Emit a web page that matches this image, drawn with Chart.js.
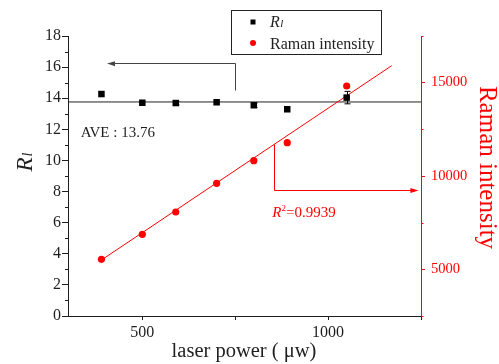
<!DOCTYPE html>
<html><head><meta charset="utf-8">
<script src="https://cdn.jsdelivr.net/npm/chart.js@4"></script>
<style>html,body{margin:0;padding:0;background:#fff}#wrap{width:499px;height:364px;position:relative}</style>
</head><body><div id="wrap"><canvas id="c" width="499" height="364"></canvas></div>
<script>
// ---- data ----
const laserPower = [390, 500, 590, 700, 800, 890, 1050];
const rlValues = [14.27, 13.71, 13.69, 13.74, 13.55, 13.29, 14.04];
const rlErrors = [0, 0, 0.12, 0, 0.15, 0, 0.4];
const ramanIntensity = [5537, 6877, 8071, 9609, 10820, 11784, 14821];
const fitPower = [390, 1171];
const fitIntensity = [5500, 15909];
const avePower = [300, 1250];
const aveValue = [13.76, 13.76];
const xTicks = [500, 750, 1000, 1250];
const xTickLabels = {500: '500', 1000: '1000'};
const yLeftTicks = [0, 2, 4, 6, 8, 10, 12, 14, 16, 18];
const yLeftMinor = [1, 3, 5, 7, 9, 11, 13, 15, 17];
const yRightTicks = [5000, 10000, 15000];
const yRightMinor = [2500, 7500, 12500, 17500];
const aveLabel = 'AVE : 13.76';
const r2Label = '=0.9939';

const SERIF = '"Liberation Serif","Times New Roman",serif';
const INK = '#1e1e1e';
const RED = '#ff0000';

function pts(xs, ys) { return xs.map((x, i) => ({x: x, y: ys[i]})); }

const overlay = {
  id: 'overlay',
  afterDatasetsDraw(chart) {
    const ctx = chart.ctx, a = chart.chartArea;
    const sx = chart.scales.x, sy = chart.scales.y, sr = chart.scales.y1;
    ctx.save();
    // minor ticks
    ctx.lineWidth = 1;
    ctx.strokeStyle = INK;
    yLeftMinor.forEach(v => {
      const p = Math.round(sy.getPixelForValue(v)) + 0.5;
      ctx.beginPath(); ctx.moveTo(a.left - 3, p); ctx.lineTo(a.left, p); ctx.stroke();
    });
    ctx.strokeStyle = RED;
    yRightMinor.forEach(v => {
      const p = Math.round(sr.getPixelForValue(v)) + 0.5;
      ctx.beginPath(); ctx.moveTo(a.right, p); ctx.lineTo(a.right + 2.5, p); ctx.stroke();
    });
    // error bars
    ctx.strokeStyle = '#000';
    laserPower.forEach((x, i) => {
      const e = rlErrors[i];
      if (!e) return;
      const px = Math.round(sx.getPixelForValue(x)) + 0.5;
      const t = sy.getPixelForValue(rlValues[i] + e), b = sy.getPixelForValue(rlValues[i] - e);
      ctx.beginPath();
      ctx.moveTo(px, t); ctx.lineTo(px, b);
      ctx.moveTo(px - 3, t); ctx.lineTo(px + 3, t);
      ctx.moveTo(px - 3, b); ctx.lineTo(px + 3, b);
      ctx.stroke();
    });
    // black arrow (points to left axis)
    const bx = sx.getPixelForValue(750), by0 = sy.getPixelForValue(14.5), by1 = sy.getPixelForValue(16.25);
    const btip = sx.getPixelForValue(405);
    ctx.strokeStyle = '#444'; ctx.fillStyle = '#444';
    ctx.beginPath();
    ctx.moveTo(Math.round(bx) + 0.5, by0); ctx.lineTo(Math.round(bx) + 0.5, Math.round(by1) + 0.5);
    ctx.lineTo(btip + 6, Math.round(by1) + 0.5); ctx.stroke();
    ctx.beginPath();
    ctx.moveTo(btip, Math.round(by1) + 0.5); ctx.lineTo(btip + 8, by1 - 2); ctx.lineTo(btip + 8, by1 + 3); ctx.closePath(); ctx.fill();
    // red arrow (points to right axis)
    const slope = (fitIntensity[1] - fitIntensity[0]) / (fitPower[1] - fitPower[0]);
    const rxv = 854;
    const rx = Math.round(sx.getPixelForValue(rxv)) + 0.5;
    const ry0 = sr.getPixelForValue(fitIntensity[0] + (rxv - fitPower[0]) * slope);
    const ry1 = Math.round(sr.getPixelForValue(9250)) + 0.5;
    const rtip = sx.getPixelForValue(1243);
    ctx.strokeStyle = RED; ctx.fillStyle = RED;
    ctx.beginPath(); ctx.moveTo(rx, ry0); ctx.lineTo(rx, ry1); ctx.lineTo(rtip - 6, ry1); ctx.stroke();
    ctx.beginPath(); ctx.moveTo(rtip, ry1); ctx.lineTo(rtip - 8, ry1 - 2.5); ctx.lineTo(rtip - 8, ry1 + 2.5); ctx.closePath(); ctx.fill();

    // AVE label
    ctx.fillStyle = INK;
    ctx.textBaseline = 'alphabetic'; ctx.textAlign = 'left';
    ctx.font = '15px ' + SERIF;
    ctx.fillText(aveLabel, sx.getPixelForValue(334), sy.getPixelForValue(11.53));
    // R^2 label
    let tx = sx.getPixelForValue(850); const ty = sr.getPixelForValue(7820);
    ctx.fillStyle = RED;
    ctx.font = 'italic 15px ' + SERIF;
    ctx.fillText('R', tx, ty); tx += ctx.measureText('R').width;
    ctx.font = '9px ' + SERIF;
    ctx.fillText('2', tx, ty - 6); tx += ctx.measureText('2').width;
    ctx.font = '15px ' + SERIF;
    ctx.fillText(r2Label, tx, ty);

    // legend
    ctx.strokeStyle = '#222'; ctx.lineWidth = 1;
    ctx.strokeRect(231.5, 10.5, 150, 44);
    ctx.fillStyle = '#000';
    ctx.fillRect(250.5, 19.5, 5, 5);
    ctx.fillStyle = RED;
    ctx.beginPath(); ctx.arc(253, 43, 3, 0, Math.PI * 2); ctx.fill();
    ctx.fillStyle = INK;
    ctx.font = 'italic 16px ' + SERIF;
    ctx.fillText('R', 270, 27);
    let lw = ctx.measureText('R').width;
    ctx.font = 'italic 11px ' + SERIF;
    ctx.fillText('l', 270 + lw + 0.5, 27);
    ctx.font = '16px ' + SERIF;
    ctx.fillText('Raman intensity', 270, 48.5);

    // axis titles
    ctx.save();
    ctx.translate(31.5, 171.5); ctx.rotate(-Math.PI / 2);
    ctx.fillStyle = INK; ctx.textAlign = 'left';
    ctx.font = 'italic 23px ' + SERIF;
    ctx.fillText('R', 0, 0);
    lw = ctx.measureText('R').width;
    ctx.font = 'italic 14px ' + SERIF;
    ctx.fillText('l', lw + 1, 0.5);
    ctx.restore();

    ctx.fillStyle = INK; ctx.textAlign = 'center';
    ctx.font = '20.5px ' + SERIF;
    ctx.fillText('laser power ( \u03bcw)', 244, 357);

    ctx.save();
    ctx.translate(480, 167.5); ctx.rotate(Math.PI / 2);
    ctx.fillStyle = RED; ctx.textAlign = 'center';
    ctx.font = '25px ' + SERIF;
    ctx.fillText('Raman intensity', 0, 0);
    ctx.restore();

    ctx.restore();
  }
};

new Chart(document.getElementById('c'), {
  type: 'scatter',
  data: {
    datasets: [
      {label: 'Rl', data: pts(laserPower, rlValues), yAxisID: 'y', pointStyle: 'rect',
       pointRadius: 4.6, pointHoverRadius: 4.6, backgroundColor: '#000', borderColor: '#000', borderWidth: 0, showLine: false, order: 1},
      {label: 'Raman intensity', data: pts(laserPower, ramanIntensity), yAxisID: 'y1', pointStyle: 'circle',
       pointRadius: 3.6, pointHoverRadius: 3.6, backgroundColor: RED, borderColor: RED, borderWidth: 0, showLine: false, order: 2},
      {label: 'fit', data: pts(fitPower, fitIntensity), yAxisID: 'y1', showLine: true, pointRadius: 0,
       borderColor: RED, borderWidth: 1, fill: false, order: 3},
      {label: 'ave', data: pts(avePower, aveValue), yAxisID: 'y', showLine: true, pointRadius: 0,
       borderColor: '#222', borderWidth: 1, fill: false, order: 4}
    ]
  },
  options: {
    responsive: false, animation: false, devicePixelRatio: 1,
    layout: {padding: {top: 36, left: 0, right: 0, bottom: 0}},
    plugins: {legend: {display: false}, tooltip: {enabled: false}, title: {display: false}},
    scales: {
      x: {
        type: 'linear', position: 'bottom', min: 300, max: 1250,
        afterBuildTicks: s => { s.ticks = xTicks.map(v => ({value: v})); },
        afterFit: s => { s.height = 48; },
        ticks: {callback: v => xTickLabels[v] || '', font: {family: SERIF, size: 16}, color: INK,
                padding: 3, maxRotation: 0, autoSkip: false},
        grid: {drawOnChartArea: false, drawTicks: true, tickLength: 4, color: INK, lineWidth: 1},
        border: {display: true, color: INK, width: 1}
      },
      y: {
        type: 'linear', position: 'left', min: 0, max: 18,
        afterBuildTicks: s => { s.ticks = yLeftTicks.map(v => ({value: v})); },
        afterFit: s => { s.width = 68; },
        ticks: {callback: v => String(v), font: {family: SERIF, size: 16}, color: INK, padding: 1, autoSkip: false},
        grid: {drawOnChartArea: false, drawTicks: true, tickLength: 6, color: INK, lineWidth: 1},
        border: {display: true, color: INK, width: 1}
      },
      y1: {
        type: 'linear', position: 'right', min: 2500, max: 17500,
        afterBuildTicks: s => { s.ticks = yRightTicks.map(v => ({value: v})); },
        afterFit: s => { s.width = 78; },
        ticks: {callback: v => String(v), font: {family: SERIF, size: 14.5}, color: RED, padding: 6, autoSkip: false},
        grid: {drawOnChartArea: false, drawTicks: true, tickLength: 4, color: RED, lineWidth: 1},
        border: {display: true, color: RED, width: 1}
      }
    }
  },
  plugins: [overlay]
});
</script>
</body></html>
